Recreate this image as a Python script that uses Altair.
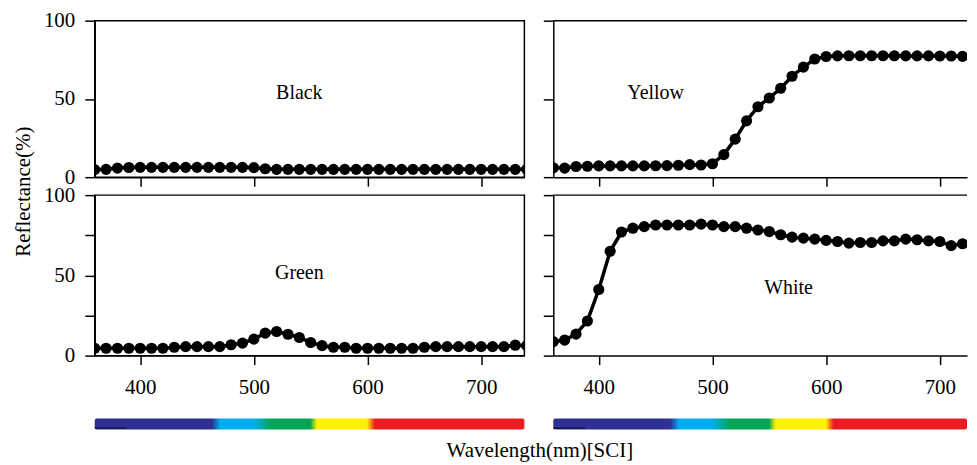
import altair as alt
import pandas as pd

# ---------------- data ----------------
wavelengths = [360, 370, 380, 390, 400, 410, 420, 430, 440, 450, 460, 470, 480,
               490, 500, 510, 520, 530, 540, 550, 560, 570, 580, 590, 600, 610,
               620, 630, 640, 650, 660, 670, 680, 690, 700, 710, 720, 730, 740]

black_values = [4.8, 5.0, 5.8, 6.2, 6.3, 6.3, 6.3, 6.3, 6.3, 6.3, 6.3, 6.3, 6.3,
                6.3, 6.1, 5.4, 5.0, 5.0, 5.0, 5.0, 5.0, 5.0, 5.0, 5.0, 5.0, 5.0,
                5.0, 5.0, 5.0, 5.0, 5.0, 5.0, 5.0, 5.0, 5.0, 5.0, 5.0, 5.0, 5.0]

yellow_values = [6.0, 5.8, 6.8, 7.0, 7.2, 7.2, 7.2, 7.2, 7.2, 7.3, 7.4, 7.6, 8.0,
                 7.8, 8.6, 14.4, 24.3, 36.0, 45.0, 50.6, 56.8, 64.5, 70.3, 75.5, 77.1, 77.5,
                 77.6, 77.6, 77.6, 77.6, 77.6, 77.5, 77.5, 77.5, 77.4, 77.4, 77.2, 76.8, 76.5]

green_values = [4.6, 4.6, 4.6, 4.6, 4.6, 4.6, 4.6, 5.2, 5.6, 5.6, 5.6, 5.6, 6.8,
                7.8, 10.3, 14.0, 15.0, 13.3, 11.3, 8.2, 6.2, 5.2, 5.2, 4.6, 4.6, 4.6,
                4.6, 4.6, 4.6, 5.2, 5.6, 5.6, 5.6, 5.6, 5.6, 5.6, 5.6, 6.5, 6.2]

white_values = [8.7, 9.7, 13.4, 21.6, 41.2, 65.0, 77.0, 79.4, 80.4, 81.4, 81.4, 81.4, 81.4,
                81.9, 81.4, 80.4, 80.4, 79.4, 78.3, 77.3, 75.3, 73.8, 73.2, 72.6, 71.8, 71.1,
                70.1, 70.5, 70.5, 71.5, 71.5, 72.6, 72.2, 71.5, 71.1, 68.5, 69.7, 70.1, 70.5]

panel_names = ["Black", "Yellow", "Green", "White"]
label_wavelength = [540, 450, 540, 567]
label_value = [54.0, 54.0, 51.5, 42.0]

x_ticks = [400, 500, 600, 700]
y_ticks = [0, 25, 50, 75, 100]

# colour bar: colours and the wavelengths (nm) where each stop sits
spectrum_colors = ["#2E3192", "#2E3192", "#00AEEF", "#00AEEF", "#00A651", "#00A651",
                   "#FFF200", "#FFF200", "#ED1C24", "#ED1C24"]
spectrum_stops_nm = [360, 463, 470.5, 499.5, 516, 549.5, 555.6, 599.5, 606.5, 738]

# ---------------- layout / style ----------------
FONT = "Liberation Serif"
LEFT_DOM = [360, 738]
RIGHT_DOM = [360, 723.9]
LW, RW = 431, 415
TOP_H, BOT_H, BAR_H = 157, 161, 56


def make_panel(values, name, lab_wl, lab_val, is_left, is_bottom):
    dom = LEFT_DOM if is_left else RIGHT_DOM
    width = LW if is_left else RW
    height = BOT_H if is_bottom else TOP_H
    df = pd.DataFrame({"Wavelength": wavelengths, "Reflectance": values})

    xkw = dict(values=x_ticks, tickSize=9, labels=is_bottom, labelPadding=12)
    if is_left and is_bottom:
        xkw.update(title="Wavelength(nm)[SCI]", titleX=446, titleY=101,
                   titleAlign="center", titleBaseline="alphabetic")
    ykw = dict(values=y_ticks, tickSize=10, labels=is_left, labelPadding=10,
               labelExpr="datum.value % 50 === 0 ? datum.label : ''")
    if is_left and not is_bottom:
        ykw.update(title="Reflectance(%)", titleX=-71, titleY=171, titleAngle=270,
                   titleAlign="center", titleBaseline="middle")

    x_enc = alt.X("Wavelength:Q", scale=alt.Scale(domain=dom, nice=False, zero=False),
                  axis=alt.Axis(**xkw), title=xkw.get("title", None))
    y_enc = alt.Y("Reflectance:Q", scale=alt.Scale(domain=[0, 100], nice=False),
                  axis=alt.Axis(**ykw), title=ykw.get("title", None))

    line = alt.Chart(df).mark_line(color="black", strokeWidth=3.5, clip=True).encode(x=x_enc, y=y_enc)
    pts = alt.Chart(df).mark_circle(color="black", size=125, opacity=1, clip=True).encode(
        x="Wavelength:Q", y="Reflectance:Q")
    lab_df = pd.DataFrame({"Wavelength": [lab_wl], "Reflectance": [lab_val], "Label": [name]})
    txt = alt.Chart(lab_df).mark_text(font=FONT, fontSize=20, color="black").encode(
        x="Wavelength:Q", y="Reflectance:Q", text="Label:N")
    layers = [line, pts, txt]
    view = alt.ViewBackground(stroke="black", strokeWidth=1.5)
    if not is_left:
        # frame line on top only (the right edge runs past the window)
        top_df = pd.DataFrame({"a": [dom[0]], "b": [dom[1]], "v": [100]})
        top = alt.Chart(top_df).mark_rule(color="black", strokeWidth=1.5).encode(
            x="a:Q", x2="b:Q", y="v:Q")
        layers.append(top)
        view = alt.ViewBackground(stroke="transparent")
    return alt.layer(*layers).properties(width=width, height=height, view=view)


def make_bar(is_left):
    dom = LEFT_DOM if is_left else RIGHT_DOM
    width = LW if is_left else RW
    span = dom[1] - dom[0]
    offsets = [min(1.0, max(0.0, (w - dom[0]) / span)) for w in spectrum_stops_nm]
    grad = alt.Gradient(
        gradient="linear",
        stops=[alt.GradientStop(color=c, offset=o) for c, o in zip(spectrum_colors, offsets)],
        x1=0, x2=1, y1=0, y2=0)
    bdf = pd.DataFrame({"start": [dom[0]], "end": [dom[1]], "low": [0], "high": [1]})
    rect = alt.Chart(bdf).mark_rect(fill=grad, cornerRadius=2).encode(
        x=alt.X("start:Q", scale=alt.Scale(domain=dom, nice=False, zero=False), axis=None),
        x2="end:Q",
        y=alt.Y("low:Q", scale=alt.Scale(domain=[0, BAR_H / 11.0], nice=False), axis=None),
        y2="high:Q")
    adf = pd.DataFrame({"start": [360], "end": [388], "low": [0.12]})
    accent = alt.Chart(adf).mark_rule(color="#14143c", strokeWidth=1.5).encode(
        x="start:Q", x2="end:Q", y="low:Q")
    return alt.layer(rect, accent).properties(
        width=width, height=BAR_H, view=alt.ViewBackground(stroke="transparent"))


p_black = make_panel(black_values, panel_names[0], label_wavelength[0], label_value[0], True, False)
p_yellow = make_panel(yellow_values, panel_names[1], label_wavelength[1], label_value[1], False, False)
p_green = make_panel(green_values, panel_names[2], label_wavelength[2], label_value[2], True, True)
p_white = make_panel(white_values, panel_names[3], label_wavelength[3], label_value[3], False, True)

chart = alt.concat(
    p_black, p_yellow, p_green, p_white, make_bar(True), make_bar(False),
    columns=2, spacing={"row": 18, "column": 29}, bounds="flush"
).properties(
    padding={"left": 4, "top": 0, "right": 0, "bottom": 0}
).configure_axis(
    labelFont=FONT, labelFontSize=21, labelColor="black",
    titleFont=FONT, titleFontSize=21, titleFontWeight="normal", titleColor="black",
    domainColor="black", domainWidth=1.5, tickColor="black", tickWidth=1.5, grid=False
)

chart.save("out.html", embed_options={"renderer": "svg", "actions": False})
